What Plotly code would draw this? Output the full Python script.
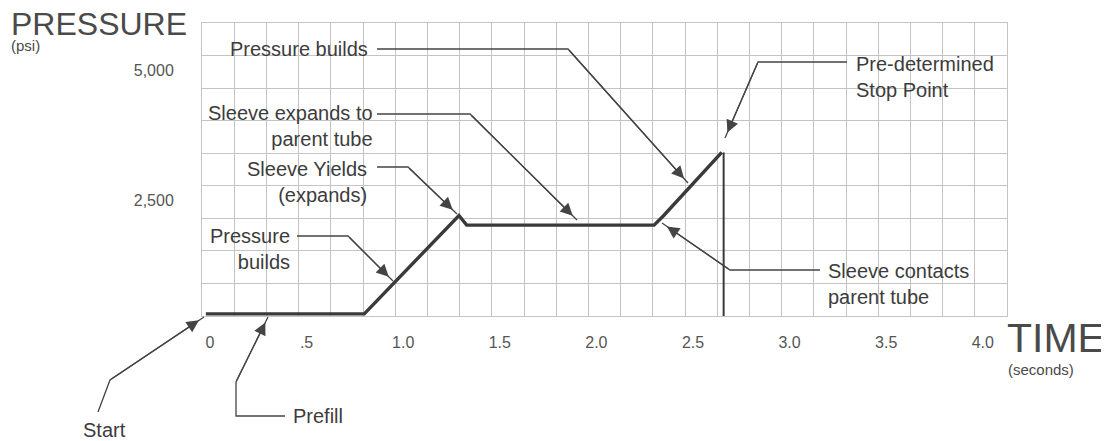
import plotly.graph_objects as go

# ---- data (time in seconds, pressure in psi) ----
time_s = [0.02, 0.84, 1.33, 1.37, 2.34, 2.39, 2.69]
pressure_psi = [40, 40, 1930, 1745, 1745, 1930, 3140]
stop_time_s = [2.70, 2.70]
stop_pressure_psi = [3140, 0]

x_tick_vals = [0, 0.5, 1.0, 1.5, 2.0, 2.5, 3.0, 3.5, 4.0]
x_tick_text = ["0", ".5", "1.0", "1.5", "2.0", "2.5", "3.0", "3.5", "4.0"]
y_tick_vals = [2500, 5000]
y_tick_text = ["2,500", "5,000"]

OFF = 8  # page body margin of the browser
W, H = 1109 - OFF, 441 - OFF
L, R, T, B = 202, 1007, 23, 316  # plot area in screen pixels
GRID = "#c4c4c4"
INK = "#444444"
TXT = "#3c3c3c"
FONT = "Liberation Sans, Arial, sans-serif"


def P(x, y):
    """screen pixel position -> paper coordinates"""
    return (x - L) / (R - L), (B - y) / (B - T)


fig = go.Figure()
fig.add_trace(go.Scatter(x=time_s, y=pressure_psi, mode="lines",
                         line=dict(color="#3a3a3a", width=3.4), hoverinfo="skip"))
fig.add_trace(go.Scatter(x=stop_time_s, y=stop_pressure_psi, mode="lines",
                         line=dict(color="#3a3a3a", width=2), hoverinfo="skip"))

shapes = []
annotations = []

# leader lines: list of pixel points, last one is the arrow tip
leaders = [
    [(377, 49), (568, 49), (688, 183)],
    [(377, 114), (470, 114), (577, 220)],
    [(377, 167), (408, 167), (457, 214)],
    [(297, 236), (348, 236), (393, 281)],
    [(847, 62), (758, 62), (725, 138)],
    [(820, 270), (730, 270), (662, 223)],
    [(98, 412), (110, 380), (204, 317)],
    [(285, 416), (236, 416), (236, 382), (268, 317)],
]
for pts in leaders:
    path = ""
    for i, (px, py) in enumerate(pts):
        ux, uy = P(px, py)
        path += ("M" if i == 0 else " L") + f" {ux:.5f},{uy:.5f}"
    shapes.append(dict(type="path", xref="paper", yref="paper", path=path,
                       line=dict(color=INK, width=1.3), layer="above"))
    (bx, by), (tx, ty) = pts[-2], pts[-1]
    ux, uy = P(tx, ty)
    annotations.append(dict(x=ux, y=uy, xref="paper", yref="paper", text="",
                            showarrow=True, arrowhead=2, arrowsize=1.9,
                            arrowwidth=1.3, arrowcolor=INK, standoff=6,
                            axref="pixel", ayref="pixel",
                            ax=bx - tx, ay=by - ty))

labels = [
    ("Pressure builds", 369, 49, "right"),
    ("Sleeve expands to<br>parent tube", 374, 126, "right"),
    ("Sleeve Yields<br>(expands)", 368, 182, "right"),
    ("Pressure<br>builds", 291, 249, "right"),
    ("Pre-determined<br>Stop Point", 855, 77, "left"),
    ("Sleeve contacts<br>parent tube", 827, 284, "left"),
    ("Start", 82, 430, "left"),
    ("Prefill", 292, 416, "left"),
]
for text, px, py, anchor in labels:
    ux, uy = P(px, py)
    annotations.append(dict(x=ux, y=uy, xref="paper", yref="paper", text=text,
                            showarrow=False, xanchor=anchor, yanchor="middle",
                            align=anchor, font=dict(family=FONT, size=20, color=TXT),
                            borderpad=0))

titles = [
    ("PRESSURE", 10, 24, 32),
    ("(psi)", 10, 45, 15),
    ("TIME", 1006, 338, 41),
    ("(seconds)", 1007, 369, 15),
]
for text, px, py, size in titles:
    ux, uy = P(px, py)
    annotations.append(dict(x=ux, y=uy, xref="paper", yref="paper", text=text,
                            showarrow=False, xanchor="left", yanchor="middle",
                            font=dict(family=FONT, size=size, color="#4a4a4a"),
                            borderpad=0))

fig.update_layout(
    width=W, height=H,
    margin=dict(l=L - OFF, r=W - (R - OFF), t=T - OFF, b=H - (B - OFF)),
    paper_bgcolor="white", plot_bgcolor="white",
    showlegend=False,
    shapes=shapes, annotations=annotations,
    font=dict(family=FONT, color="#555555"),
)
fig.update_xaxes(
    range=[0, 25 / 6], tickvals=x_tick_vals, ticktext=x_tick_text,
    showgrid=True, gridcolor=GRID, gridwidth=1,
    minor=dict(tick0=0, dtick=1 / 6, showgrid=True, gridcolor=GRID, gridwidth=1),
    zeroline=False, showline=True, mirror=True, linecolor=GRID, linewidth=1,
    ticks="", tickfont=dict(family=FONT, size=16, color="#555555"),
    ticklabelshift=8, ticklabelstandoff=12, fixedrange=True,
)
fig.update_yaxes(
    range=[0, 5625], tickvals=y_tick_vals, ticktext=y_tick_text,
    showgrid=True, gridcolor=GRID, gridwidth=1,
    minor=dict(tick0=0, dtick=625, showgrid=True, gridcolor=GRID, gridwidth=1),
    zeroline=False, showline=True, mirror=True, linecolor=GRID, linewidth=1,
    ticks="", tickfont=dict(family=FONT, size=16, color="#555555"),
    ticklabelshift=15, ticklabelstandoff=24, fixedrange=True,
)

fig.write_html("out.html")
